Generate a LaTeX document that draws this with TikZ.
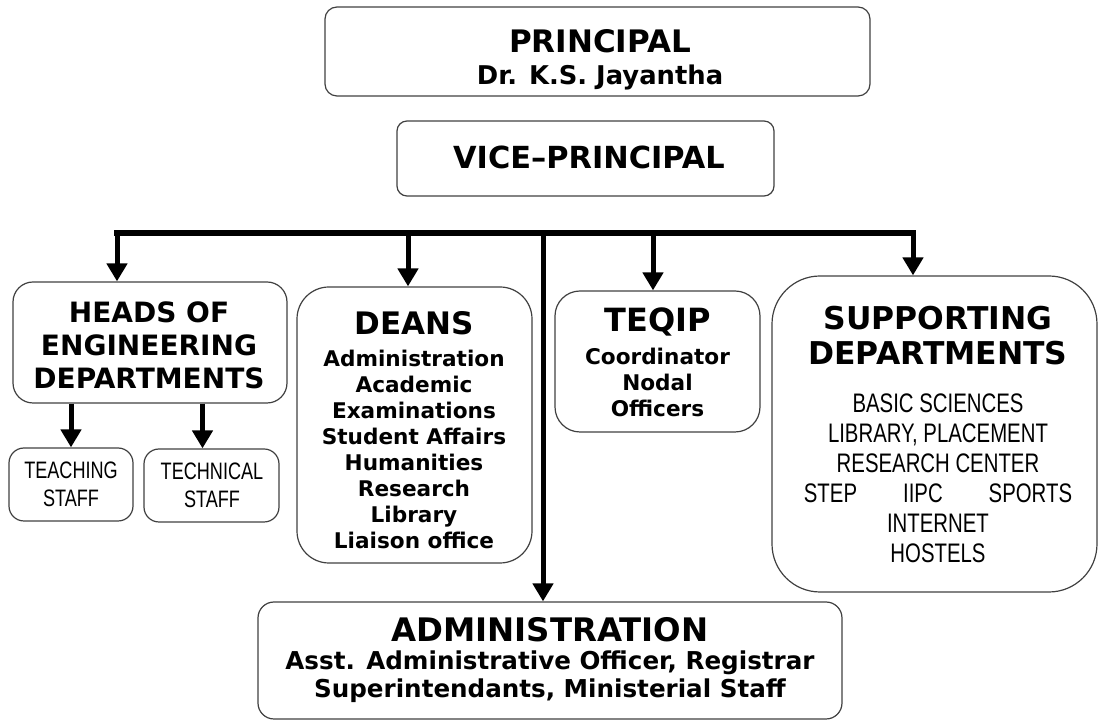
\documentclass[tikz,border=0pt]{standalone}
\usepackage{fontspec}
\setmainfont{DejaVu Sans}
\newfontfamily\narrowfont[FakeStretch=0.76]{Liberation Sans}
\usetikzlibrary{arrows.meta}
\begin{document}
\begin{tikzpicture}[x=0.5pt,y=-0.5pt,
    box/.style={draw=black!75,line width=0.6pt,rounded corners=#1,inner sep=0pt},
    box/.default=6pt,
    head/.style={inner sep=0pt,align=center,font=\bfseries\fontsize{15.5}{17.5}\selectfont},
    sub/.style={inner sep=0pt,align=center,font=\bfseries\fontsize{10.8}{13}\selectfont},
    slim/.style={inner sep=0pt,align=center,font=\narrowfont\fontsize{13.4}{15}\selectfont},
    link/.style={line width=2.5pt,-{Triangle[width=10pt,length=9pt]}}]
    \useasboundingbox (0,0) rectangle (1100,721);
    % boxes
    \node[box,minimum width=272.5pt,minimum height=44.5pt] (principal) at (597.5,51.5) {};
    \node[box=5pt,minimum width=188.5pt,minimum height=37.5pt] (vice) at (585.5,158.5) {};
    \node[box=10pt,minimum width=137pt,minimum height=60.5pt] (hod) at (150,342.5) {};
    \node[box=7.5pt,minimum width=62pt,minimum height=36.5pt] (teach) at (71,484.5) {};
    \node[box=7.5pt,minimum width=67.5pt,minimum height=36.5pt] (tech) at (211.5,485.5) {};
    \node[box=16pt,minimum width=117.5pt,minimum height=138pt] (deans) at (414.5,425) {};
    \node[box=12.5pt,minimum width=102.5pt,minimum height=70.5pt] (teqip) at (657.5,361.5) {};
    \node[box=24pt,minimum width=162.5pt,minimum height=158pt] (support) at (934.5,434) {};
    \node[box=8pt,minimum width=292pt,minimum height=58.5pt] (admin) at (550,660.5) {};
    % texts
    \node[head] (principalT) at (600,41) {PRINCIPAL};
    \node[head,font=\bfseries\fontsize{12.9}{15}\selectfont] (principalN) at (600,77) {Dr. K.S. Jayantha};
    \node[head,font=\bfseries\fontsize{15.2}{17}\selectfont] (viceT) at (589,157) {VICE--PRINCIPAL};
    \node[head,font=\bfseries\fontsize{14}{16.5}\selectfont] (hodT) at (149,345) {HEADS OF\\ENGINEERING\\DEPARTMENTS};
    \node[slim,font=\narrowfont\fontsize{11.9}{14}\selectfont] (teachT) at (71,484) {TEACHING\\STAFF};
    \node[slim,font=\narrowfont\fontsize{11.9}{14}\selectfont] (techT) at (212,485) {TECHNICAL\\STAFF};
    \node[head] (deansT) at (414,323) {DEANS};
    \node[sub] (deansL) at (414,449) {Administration\\Academic\\Examinations\\Student Affairs\\Humanities\\Research\\Library\\Liaison office};
    \node[head,font=\bfseries\fontsize{16}{17.5}\selectfont] (teqipT) at (657.5,322) {TEQIP};
    \node[sub] (teqipL) at (657.5,382) {Coordinator\\Nodal\\Officers};
    \node[head,font=\bfseries\fontsize{15.7}{17.5}\selectfont] (supportT) at (938,336) {SUPPORTING\\DEPARTMENTS};
    \node[slim] (supportL) at (938,478) {BASIC SCIENCES\\LIBRARY, PLACEMENT\\RESEARCH CENTER\\STEP\hspace{23pt}IIPC\hspace{23pt}SPORTS\\INTERNET\\HOSTELS};
    \node[head,font=\bfseries\fontsize{16.2}{17.5}\selectfont] (adminT) at (550,630) {ADMINISTRATION};
    \node[sub,font=\bfseries\fontsize{12.3}{14}\selectfont] (adminL) at (550,677) {Asst. Administrative Officer, Registrar\\Superintendants, Ministerial Staff};
    % connectors
    \coordinate (b1) at (117,233);
    \coordinate (b2) at (408,233);
    \coordinate (b3) at (543,233);
    \coordinate (b4) at (653,233);
    \coordinate (b5) at (913,233);
    \draw[line width=3pt,line cap=rect] (b1) -- (b5);
    \draw[link] (b1) -- (b1 |- hod.north);
    \draw[link] (b2) -- (b2 |- deans.north);
    \draw[link] (b3) -- (b3 |- admin.north);
    \draw[link] (b4) -- (b4 |- teqip.north);
    \draw[link] (b5) -- (b5 |- support.north);
    \draw[link] (hod.south -| teach.north) -- (teach.north);
    \draw[link] ([xshift=-4.5pt]tech.north |- hod.south) -- ([xshift=-4.5pt]tech.north);
\end{tikzpicture}
\end{document}
